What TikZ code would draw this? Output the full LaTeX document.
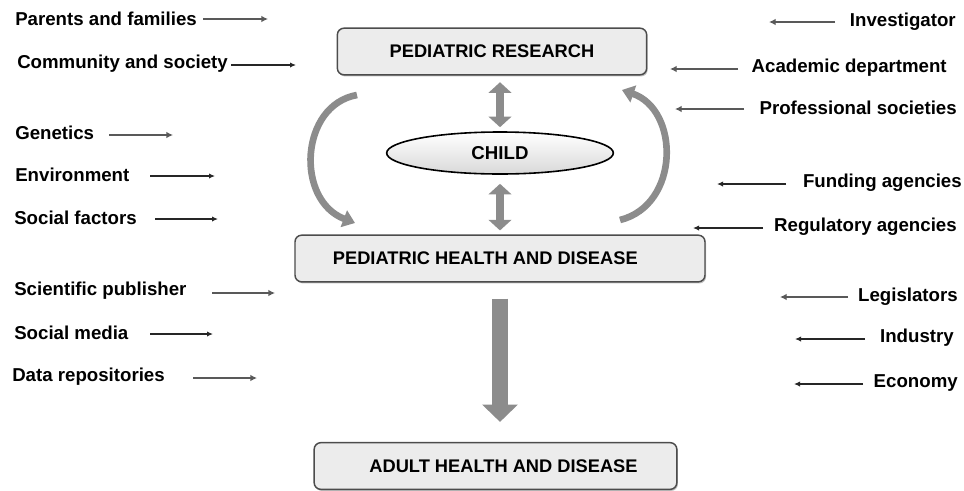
\documentclass[tikz,border=0pt]{standalone}
\usepackage{fontspec}
\setmainfont{Liberation Sans}
\usetikzlibrary{arrows.meta,shapes.geometric,shadows}

\begin{document}
\begin{tikzpicture}[x=0.75pt,y=-0.75pt]
\tikzstyle{every node}=[font=\bfseries\fontsize{14}{16}\selectfont,inner sep=0]
\tikzstyle{box}=[draw=black!70,line width=1.1pt,rounded corners=5pt,fill=gray!15,minimum height=35pt,font=\bfseries\fontsize{13.7}{16}\selectfont,drop shadow={shadow xshift=0.8pt,shadow yshift=-1.2pt,opacity=0.5}]
\tikzstyle{garrow}=[-{Latex[length=5pt,width=5pt]},black!65,line width=2.2pt]
\tikzstyle{barrow}=[-{Latex[length=4.5pt,width=4pt]},black!85,line width=1.1pt]
\tikzstyle{dbl}=[{Triangle[width=17pt,length=8pt]}-{Triangle[width=17pt,length=8pt]},black!45,line width=6pt]
\tikzstyle{curvearrow}=[-{Triangle[width=13pt,length=9pt]},black!45,line width=5pt]
\useasboundingbox (0,0) rectangle (964,490);

% center column
\node[box,minimum width=232pt] (res) at (492,51.5) {PEDIATRIC RESEARCH};
\node[draw,ellipse,line width=1.2pt,minimum width=170pt,minimum height=31.5pt,top color=white,bottom color=gray!30] (child) at (500,153) {CHILD};
\node[box,minimum width=307.5pt] (hd) at (500,258.5) {\hspace*{-22pt}PEDIATRIC HEALTH AND DISEASE};
\node[box,minimum width=272pt] (adult) at (495.5,466) {\hspace*{12pt}ADULT HEALTH AND DISEASE};

\draw[dbl,shorten <=5pt,shorten >=3pt] (child.north |- res.south) -- (child.north);
\draw[dbl,shorten <=6.75pt,shorten >=3pt] (child.south) -- (child.south |- hd.north);
\draw[-{Triangle[width=26pt,length=13pt]},black!45,line width=12pt,shorten <=12pt,shorten >=15pt] (hd.south) -- (hd.south |- adult.north);

\coordinate (l1) at (357,95); \coordinate (l2) at (355,223);
\draw[curvearrow] (l1) .. controls (300,105) and (295,200) .. (l2);
\coordinate (r1) at (620,220); \coordinate (r2) at (622,90);
\draw[curvearrow] (r1) .. controls (680,205) and (680,110) .. (r2);

% left side
\node[anchor=west] (pf) at (15,19) {Parents and families};
\node[anchor=west] (cs) at (17,64) {Community and society};
\node[anchor=west] (gen) at (15,133) {Genetics};
\node[anchor=west] (env) at (15,175) {Environment};
\node[anchor=west] (sf) at (14,218) {Social factors};
\node[anchor=west] (sp) at (14,291) {Scientific publisher};
\node[anchor=west] (sm) at (14,333) {Social media};
\node[anchor=west] (dr) at (12,377) {Data repositories};

\coordinate (pf1) at (203,19); \coordinate (pf2) at (268,19);
\coordinate (cs1) at (231,65); \coordinate (cs2) at (296,65);
\coordinate (gen1) at (109,135); \coordinate (gen2) at (173,135);
\coordinate (env1) at (150,176); \coordinate (env2) at (215,176);
\coordinate (sf1) at (155,219); \coordinate (sf2) at (218,219);
\coordinate (sp1) at (212,293); \coordinate (sp2) at (275,293);
\coordinate (sm1) at (150,334); \coordinate (sm2) at (213,334);
\coordinate (dr1) at (193,378); \coordinate (dr2) at (257,378);
\draw[garrow] (pf1) -- (pf2);
\draw[barrow] (cs1) -- (cs2);
\draw[garrow] (gen1) -- (gen2);
\draw[barrow] (env1) -- (env2);
\draw[barrow] (sf1) -- (sf2);
\draw[garrow] (sp1) -- (sp2);
\draw[barrow] (sm1) -- (sm2);
\draw[garrow] (dr1) -- (dr2);

% right side
\node[anchor=east] (inv) at (956,22) {Investigator};
\node[anchor=east] (ad) at (947,68) {Academic department};
\node[anchor=east] (ps) at (957,108) {Professional societies};
\node[anchor=east] (fa) at (962,183) {Funding agencies};
\node[anchor=east] (ra) at (957,227) {Regulatory agencies};
\node[anchor=east] (leg) at (958,297) {Legislators};
\node[anchor=east] (ind) at (954,338) {Industry};
\node[anchor=east] (eco) at (958,383) {Economy};

\coordinate (inv1) at (835,22); \coordinate (inv2) at (769,22);
\coordinate (ad1) at (738,69); \coordinate (ad2) at (670,69);
\coordinate (ps1) at (744,109); \coordinate (ps2) at (675,109);
\coordinate (fa1) at (786,184); \coordinate (fa2) at (717,184);
\coordinate (ra1) at (763,228); \coordinate (ra2) at (693,228);
\coordinate (leg1) at (848,297); \coordinate (leg2) at (780,297);
\coordinate (ind1) at (865,339); \coordinate (ind2) at (795,339);
\coordinate (eco1) at (863,384); \coordinate (eco2) at (794,384);
\draw[garrow] (inv1) -- (inv2);
\draw[garrow] (ad1) -- (ad2);
\draw[garrow] (ps1) -- (ps2);
\draw[barrow] (fa1) -- (fa2);
\draw[barrow] (ra1) -- (ra2);
\draw[garrow] (leg1) -- (leg2);
\draw[barrow] (ind1) -- (ind2);
\draw[barrow] (eco1) -- (eco2);
\end{tikzpicture}
\end{document}
